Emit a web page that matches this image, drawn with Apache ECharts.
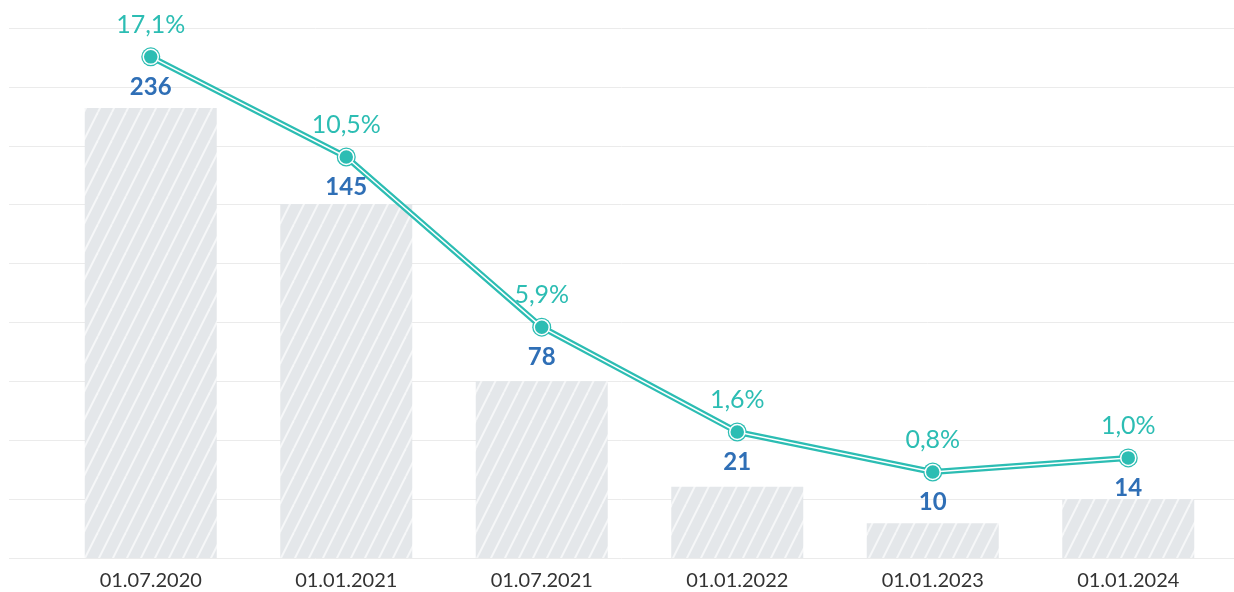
<!DOCTYPE html>
<html>
<head>
<meta charset="utf-8">
<script src="https://cdn.jsdelivr.net/npm/echarts@6/dist/echarts.min.js"></script>
<style>
	html, body {margin: 0; padding: 0; background: #fff;}
	#chart {width: 1234px; height: 592px;}
</style>
</head>
<body>
<div id="chart"></div>
<script>
	// dates on the axis
	const dates = ['01.07.2020', '01.01.2021', '01.07.2021', '01.01.2022', '01.01.2023', '01.01.2024'];
	// counts shown above the bars
	const counts = [236, 145, 78, 21, 10, 14];
	// shares shown above the line points
	const shares = ['17,1%', '10,5%', '5,9%', '1,6%', '0,8%', '1,0%'];
	// drawn bar heights and line heights (grid units, 9 lines)
	const barLevel = [7.64, 6.01, 3.0, 1.21, 0.59, 1.0];
	const lineLevel = [8.51, 6.81, 3.92, 2.14, 1.46, 1.70];

	const teal = '#2cbdb3';
	const blue = '#2f6fb6';
	const font = 'Lato, "Noto Sans", sans-serif';

	// hatched bar fill
	const makePattern = () => {
		let c = document.createElement('canvas');
		c.width = 14;
		c.height = 28;
		let ctx = c.getContext('2d');
		ctx.fillStyle = '#e4e7ea';
		ctx.fillRect(0, 0, 14, 28);
		ctx.strokeStyle = 'rgba(255,255,255,0.65)';
		ctx.lineWidth = 2;
		[-14, 0, 14].forEach(dx => {
			ctx.beginPath();
			ctx.moveTo(dx, 28);
			ctx.lineTo(dx + 14, 0);
			ctx.stroke();
		});
		return c;
	};

	let chart = echarts.init(document.getElementById('chart'));

	let option = {
		animation: false,
		grid: [
			{left: 9, right: 0, top: 28, bottom: 34},
			{left: 53, right: 8, top: 28, bottom: 34}
		],
		xAxis: [
			{gridIndex: 0, type: 'category', data: dates, show: false},
			{
				gridIndex: 1,
				type: 'category',
				data: dates,
				axisLine: {show: false},
				axisTick: {show: false},
				axisLabel: {color: '#333', fontSize: 20, fontFamily: font, margin: 13}
			}
		],
		yAxis: [
			{
				gridIndex: 0, type: 'value', min: 0, max: 9, interval: 1,
				axisLabel: {show: false},
				axisLine: {show: false},
				axisTick: {show: false},
				splitLine: {lineStyle: {color: '#ebebeb', width: 1}}
			},
			{
				gridIndex: 1, type: 'value', min: 0, max: 9, interval: 1,
				show: false,
				splitLine: {show: false}
			}
		],
		series: [
			{
				type: 'bar',
				xAxisIndex: 1,
				yAxisIndex: 1,
				data: barLevel,
				barWidth: 132,
				itemStyle: {color: {image: makePattern(), repeat: 'repeat'}}
			},
			{
				// outer teal line + counts below
				type: 'line',
				xAxisIndex: 1,
				yAxisIndex: 1,
				data: lineLevel,
				symbol: 'circle',
				symbolSize: 19,
				lineStyle: {color: teal, width: 6},
				itemStyle: {color: teal},
				label: {
					show: true,
					position: 'bottom',
					distance: 9,
					color: blue,
					fontWeight: 'bold',
					fontSize: 24,
					fontFamily: font,
					formatter: p => counts[p.dataIndex]
				},
				z: 3
			},
			{
				// inner white stripe + shares above
				type: 'line',
				xAxisIndex: 1,
				yAxisIndex: 1,
				data: lineLevel,
				symbol: 'circle',
				symbolSize: 15,
				lineStyle: {color: '#fff', width: 1.5},
				itemStyle: {color: teal, borderColor: '#fff', borderWidth: 1.5},
				label: {
					show: true,
					position: 'top',
					distance: 11,
					color: teal,
					fontSize: 25,
					fontFamily: font,
					formatter: p => shares[p.dataIndex]
				},
				z: 4
			}
		]
	};
	chart.setOption(option);
</script>
</body>
</html>
